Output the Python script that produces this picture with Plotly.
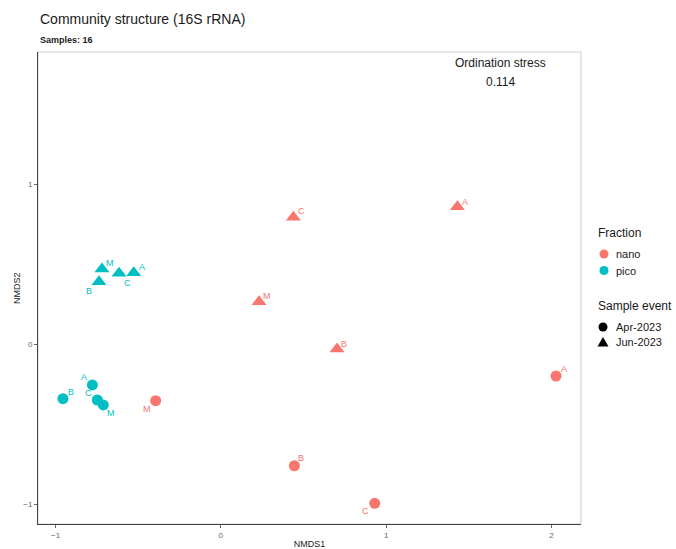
import plotly.graph_objects as go

# NMDS scores per sample
site = ["A", "B", "C", "M", "A", "B", "C", "M",
        "A", "B", "C", "M", "A", "B", "C", "M"]
fraction = ["nano"] * 8 + ["pico"] * 8
event = (["Apr-2023"] * 4 + ["Jun-2023"] * 4) * 2
nmds1 = [2.028, 0.445, 0.931, -0.394, 1.431, 0.703, 0.439, 0.231,
         -0.777, -0.955, -0.747, -0.711, -0.527, -0.737, -0.616, -0.719]
nmds2 = [-0.198, -0.759, -0.994, -0.352, 0.860, -0.029, 0.794, 0.266,
         -0.254, -0.340, -0.348, -0.379, 0.448, 0.391, 0.444, 0.471]
stress = 0.114

x_ticks = [-1, 0, 1, 2]
y_ticks = [-1, 0, 1]

fraction_levels = ["nano", "pico"]
event_levels = ["Apr-2023", "Jun-2023"]

colors = {"nano": "#F8766D", "pico": "#00BFC4"}
symbols = {"Apr-2023": "circle", "Jun-2023": "triangle-up"}
sizes = {"Apr-2023": 11, "Jun-2023": 13}

# repelled label offsets (px) for each sample, in order
label_shift = [(8, 7), (7, 8), (-9, -8), (-9, -8), (8, 5), (7, 5), (8, 6), (8, 6),
               (-8, 8), (8, 7), (-9, 7), (8, -8), (8, 6), (-10, -9), (8, -10), (8, 6)]

FONT = "Liberation Sans, Arial, sans-serif"
W, H = 676, 549
ML, MR, MT, MB = 38, 95, 52, 25
PW, PH = W - ML - MR, H - MT - MB


def px(x):
    return (x - ML) / PW


def py(y):
    return (H - MB - y) / PH


fig = go.Figure()

for fr in fraction_levels:
    for ev in event_levels:
        idx = [i for i in range(len(site)) if fraction[i] == fr and event[i] == ev]
        fig.add_trace(go.Scatter(
            x=[nmds1[i] for i in idx], y=[nmds2[i] for i in idx],
            mode="markers", showlegend=False, hoverinfo="skip",
            marker=dict(color=colors[fr], symbol=symbols[ev], size=sizes[ev],
                        line=dict(width=0)),
        ))

for i in range(len(site)):
    dx, dy = label_shift[i]
    fig.add_annotation(x=nmds1[i], y=nmds2[i], text=site[i], showarrow=False,
                       xshift=dx, yshift=dy,
                       font=dict(family=FONT, size=9, color=colors[fraction[i]]))

# stress note in the top-right corner of the panel
for y, txt in [(63, "Ordination stress"), (82, f"{stress}")]:
    fig.add_annotation(xref="x", yref="paper", x=1.69, y=py(y), yanchor="middle",
                       text=txt, showarrow=False,
                       font=dict(family=FONT, size=12, color="#1a1a1a"))

# title and subtitle
fig.add_annotation(xref="paper", yref="paper", x=0, y=py(19),
                   xanchor="left", yanchor="middle", showarrow=False,
                   text="Community structure (16S rRNA)",
                   font=dict(family=FONT, size=14, color="#1a1a1a"))
fig.add_annotation(xref="paper", yref="paper", x=0, y=py(40),
                   xanchor="left", yanchor="middle", showarrow=False,
                   text="<b>Samples: 16</b>",
                   font=dict(family=FONT, size=9, color="#1a1a1a"))

# y-axis title
fig.add_annotation(xref="paper", yref="paper", x=px(17), y=0.5, textangle=-90,
                   xanchor="center", yanchor="middle", showarrow=False,
                   text="NMDS2", font=dict(family=FONT, size=9, color="#1a1a1a"))

# legend drawn in the right margin
def legend_text(x, y, text, size):
    fig.add_annotation(xref="paper", yref="paper", x=px(x), y=py(y), xanchor="left",
                       yanchor="middle", showarrow=False, text=text,
                       font=dict(family=FONT, size=size, color="#1a1a1a"))


def legend_key(x, y, shape, color):
    r = 4.5
    if shape == "circle":
        fig.add_shape(type="circle", xref="paper", yref="paper",
                      x0=px(x - r), x1=px(x + r), y0=py(y + r), y1=py(y - r),
                      fillcolor=color, line=dict(width=0))
    else:
        path = (f"M {px(x - 5.5)} {py(y + 4.5)} L {px(x + 5.5)} {py(y + 4.5)} "
                f"L {px(x)} {py(y - 5)} Z")
        fig.add_shape(type="path", xref="paper", yref="paper", path=path,
                      fillcolor=color, line=dict(width=0))


legend_text(596, 233, "Fraction", 12)
for k, fr in enumerate(fraction_levels):
    y = 254 + 16.5 * k
    legend_key(604, y, "circle", colors[fr])
    legend_text(614, y, fr, 11)

legend_text(596, 306, "Sample event", 12)
for k, ev in enumerate(event_levels):
    y = 327 + 15 * k
    legend_key(603, y, symbols[ev], "black")
    legend_text(614, y, ev, 11)

# panel border
fig.add_shape(type="rect", xref="paper", yref="paper", x0=0, x1=1, y0=0, y1=1,
              line=dict(color="#cfcfcf", width=1), layer="below")

axis_common = dict(showgrid=False, zeroline=False, showline=True, linecolor="#444444",
                   linewidth=1, ticks="outside", ticklen=3, tickcolor="#666666",
                   automargin=False,
                   tickfont=dict(family=FONT, size=8, color="#666666"))

fig.update_xaxes(range=[-1.106, 2.179], tickvals=x_ticks, ticktext=["\u22121", "0", "1", "2"],
                 title=dict(text="NMDS1", font=dict(family=FONT, size=9, color="#1a1a1a"),
                            standoff=4),
                 **axis_common)
fig.update_yaxes(range=[-1.123, 1.827], tickvals=y_ticks, ticktext=["\u22121", "0", "1"],
                 **axis_common)

fig.update_layout(
    width=W, height=H,
    margin=dict(l=ML, r=MR, t=MT, b=MB, autoexpand=False),
    plot_bgcolor="white", paper_bgcolor="white",
    font=dict(family=FONT, color="#1a1a1a"),
    showlegend=False,
)

fig.write_html("out.html")
